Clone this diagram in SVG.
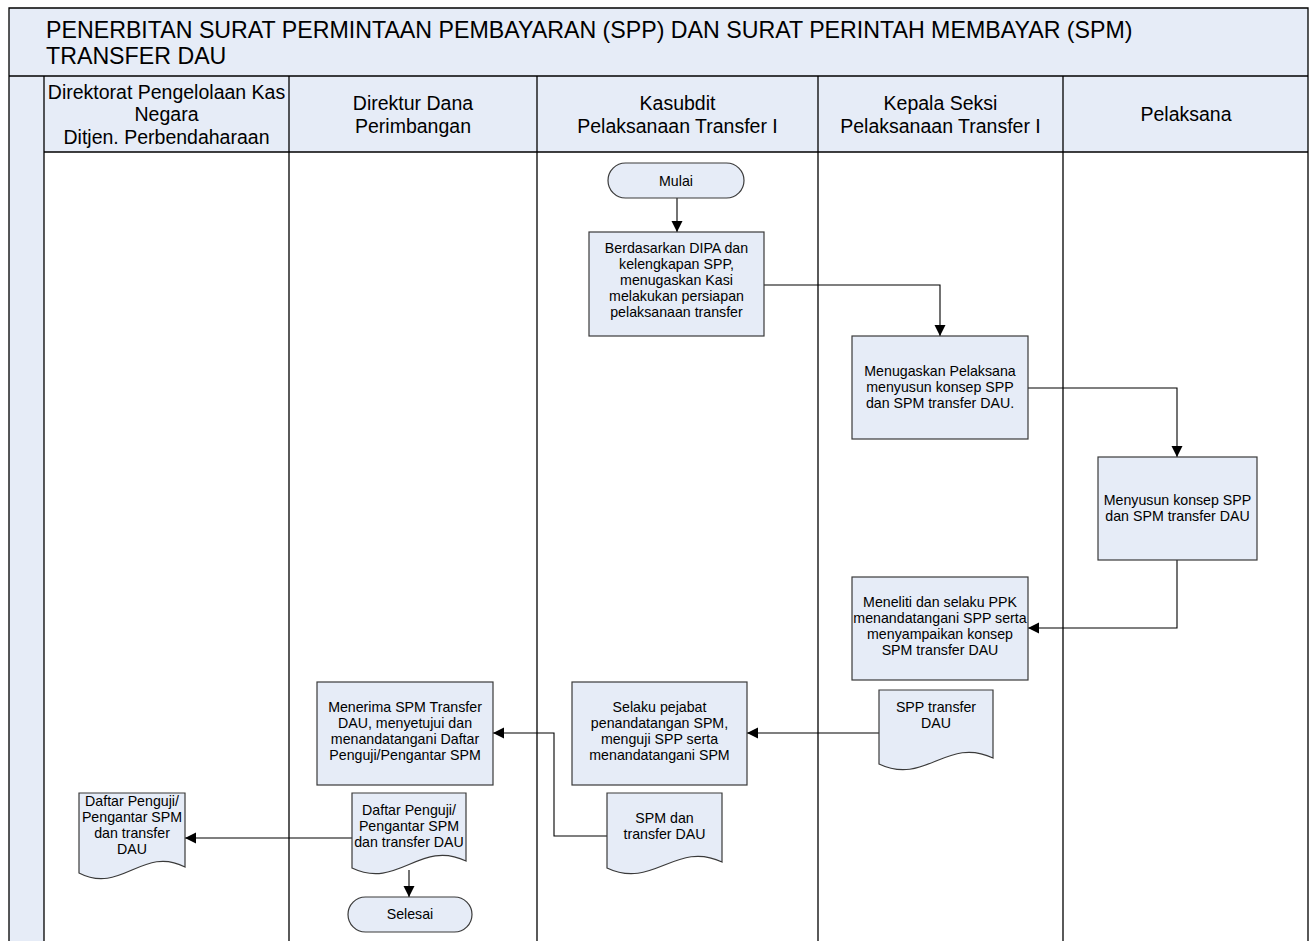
<svg xmlns="http://www.w3.org/2000/svg" width="1309" height="941" viewBox="0 0 1309 941">
<style>
.bg{fill:#E6ECF7}
.frame{fill:none;stroke:#000;stroke-width:1.3}
.lane{stroke:#000;stroke-width:1.3}
.box{fill:#E6ECF7;stroke:#3a3a3a;stroke-width:1.2}
.title{font-family:"Liberation Sans",Arial,sans-serif;font-size:23.2px;fill:#000}
.hdr{font-family:"Liberation Sans",Arial,sans-serif;font-size:19.5px;fill:#000;text-anchor:middle}
.t{font-family:"Liberation Sans",Arial,sans-serif;font-size:14.2px;fill:#000;text-anchor:middle}
.conn{fill:none;stroke:#000;stroke-width:1.1}
</style>
<defs>
<marker id="ah" markerUnits="userSpaceOnUse" markerWidth="12" markerHeight="12" viewBox="0 0 12 12" refX="11" refY="6" orient="auto">
<path d="M0,0.5 L11,6 L0,11.5 Z" fill="#000"/>
</marker>
</defs>
<rect x="0" y="0" width="1309" height="941" fill="#fff"/>
<g id="pool">
<rect class="bg" x="9" y="8" width="1299" height="68"/>
<rect class="bg" x="9" y="76" width="35" height="865"/>
<rect class="bg" x="44" y="76" width="1264" height="76"/>
<path class="frame" d="M9,941 V8 H1308 V941"/>
<line class="lane" x1="9" y1="76" x2="1308" y2="76"/>
<line class="lane" x1="44" y1="152" x2="1308" y2="152"/>
<line class="lane" x1="44" y1="76" x2="44" y2="941"/>
<line class="lane" x1="289" y1="76" x2="289" y2="941"/>
<line class="lane" x1="537" y1="76" x2="537" y2="941"/>
<line class="lane" x1="818" y1="76" x2="818" y2="941"/>
<line class="lane" x1="1063" y1="76" x2="1063" y2="941"/>
<text class="title" x="46" y="38">PENERBITAN SURAT PERMINTAAN PEMBAYARAN (SPP) DAN SURAT PERINTAH MEMBAYAR (SPM)</text>
<text class="title" x="46" y="64">TRANSFER DAU</text>
<text class="hdr" x="166.5" y="99">Direktorat Pengelolaan Kas</text>
<text class="hdr" x="166.5" y="121">Negara</text>
<text class="hdr" x="166.5" y="144">Ditjen. Perbendaharaan</text>
<text class="hdr" x="413" y="110">Direktur Dana</text>
<text class="hdr" x="413" y="133">Perimbangan</text>
<text class="hdr" x="677.5" y="110">Kasubdit</text>
<text class="hdr" x="677.5" y="133">Pelaksanaan Transfer I</text>
<text class="hdr" x="940.5" y="110">Kepala Seksi</text>
<text class="hdr" x="940.5" y="133">Pelaksanaan Transfer I</text>
<text class="hdr" x="1186" y="121">Pelaksana</text>
</g>
<g id="connectors">
<path class="conn" d="M677,198 V232" marker-end="url(#ah)"/>
<path class="conn" d="M763,285 H940 V336" marker-end="url(#ah)"/>
<path class="conn" d="M1028,388 H1177 V457" marker-end="url(#ah)"/>
<path class="conn" d="M1177,560 V628 H1028" marker-end="url(#ah)"/>
<path class="conn" d="M879,733 H747" marker-end="url(#ah)"/>
<path class="conn" d="M607,836 H554 V733 H493" marker-end="url(#ah)"/>
<path class="conn" d="M352,838 H185" marker-end="url(#ah)"/>
<path class="conn" d="M409,870 V897" marker-end="url(#ah)"/>
</g>
<g id="mulai">
<rect class="box" x="608" y="163" width="136" height="35" rx="17.5"/>
<text class="t" x="676" y="186">Mulai</text>
</g>
<g id="box1">
<rect class="box" x="589" y="232" width="175" height="104"/>
<text class="t" x="676.5" y="253">Berdasarkan DIPA dan</text>
<text class="t" x="676.5" y="269">kelengkapan SPP,</text>
<text class="t" x="676.5" y="285">menugaskan Kasi</text>
<text class="t" x="676.5" y="301">melakukan persiapan</text>
<text class="t" x="676.5" y="317">pelaksanaan transfer</text>
</g>
<g id="box2">
<rect class="box" x="852" y="336" width="176" height="103"/>
<text class="t" x="940" y="376">Menugaskan Pelaksana</text>
<text class="t" x="940" y="392">menyusun konsep SPP</text>
<text class="t" x="940" y="408">dan SPM transfer  DAU.</text>
</g>
<g id="box3">
<rect class="box" x="1098" y="457" width="159" height="103"/>
<text class="t" x="1177.5" y="505">Menyusun konsep SPP</text>
<text class="t" x="1177.5" y="521">dan SPM transfer DAU</text>
</g>
<g id="box4">
<rect class="box" x="852" y="577" width="176" height="103"/>
<text class="t" x="940" y="607">Meneliti dan selaku PPK</text>
<text class="t" x="940" y="623">menandatangani SPP serta</text>
<text class="t" x="940" y="639">menyampaikan konsep</text>
<text class="t" x="940" y="655">SPM transfer DAU</text>
</g>
<g id="doc-spp">
<path class="box" d="M879,690 H993 V758 C947,736 925,786 879,764 Z"/>
<text class="t" x="936" y="712">SPP transfer</text>
<text class="t" x="936" y="728">DAU</text>
</g>
<g id="box5">
<rect class="box" x="572" y="682" width="175" height="103"/>
<text class="t" x="659.5" y="712">Selaku pejabat</text>
<text class="t" x="659.5" y="728">penandatangan SPM,</text>
<text class="t" x="659.5" y="744">menguji SPP serta</text>
<text class="t" x="659.5" y="760">menandatangani SPM</text>
</g>
<g id="doc-spm">
<path class="box" d="M607,793 H722 V862 C676,840 653,890 607,868 Z"/>
<text class="t" x="664.5" y="823">SPM dan</text>
<text class="t" x="664.5" y="839">transfer DAU</text>
</g>
<g id="box6">
<rect class="box" x="317" y="682" width="176" height="103"/>
<text class="t" x="405" y="712">Menerima SPM Transfer</text>
<text class="t" x="405" y="728">DAU, menyetujui dan</text>
<text class="t" x="405" y="744">menandatangani Daftar</text>
<text class="t" x="405" y="760">Penguji/Pengantar SPM</text>
</g>
<g id="doc-daftar">
<path class="box" d="M352,793 H466 V861 C420,839 398,890 352,868 Z"/>
<text class="t" x="409" y="815">Daftar Penguji/</text>
<text class="t" x="409" y="831">Pengantar SPM</text>
<text class="t" x="409" y="847">dan transfer DAU</text>
</g>
<g id="doc-daftar-dpk">
<path class="box" d="M79,793 H185 V867 C143,845 121,895 79,873 Z"/>
<text class="t" x="132" y="806">Daftar Penguji/</text>
<text class="t" x="132" y="822">Pengantar SPM</text>
<text class="t" x="132" y="838">dan transfer</text>
<text class="t" x="132" y="854">DAU</text>
</g>
<g id="selesai">
<rect class="box" x="348" y="897" width="124" height="35" rx="17.5"/>
<text class="t" x="410" y="919">Selesai</text>
</g>
</svg>
